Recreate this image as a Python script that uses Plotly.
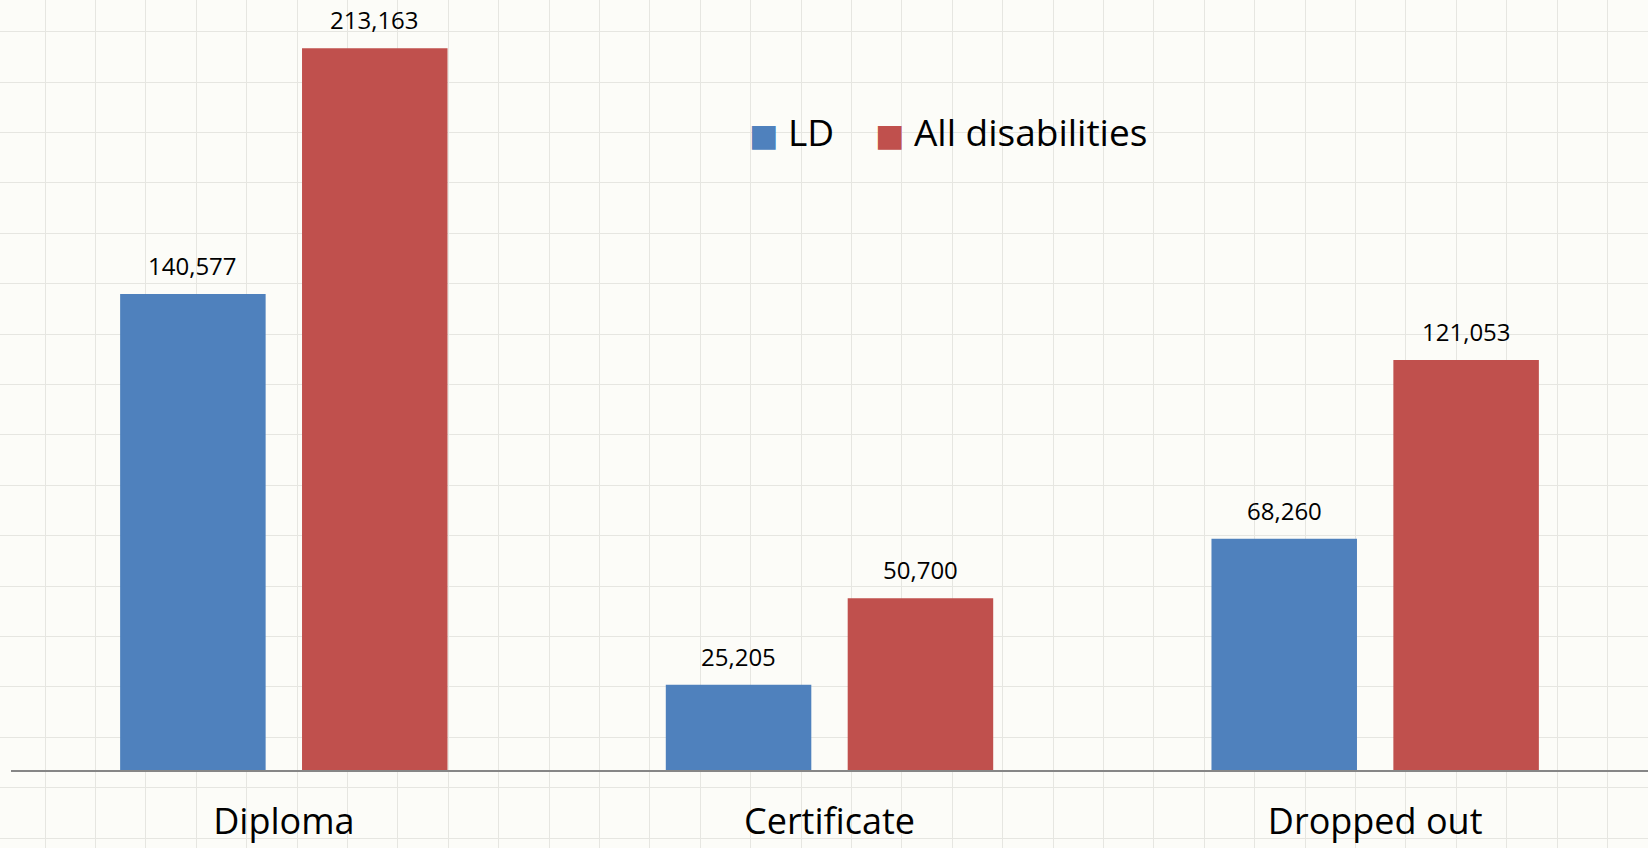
import plotly.graph_objects as go

categories = ["Diploma", "Certificate", "Dropped out"]
ld_values = [140577, 25205, 68260]
all_values = [213163, 50700, 121053]
series_names = ["LD", "All disabilities"]
series_colors = ["#4F81BD", "#C0504D"]

W, H = 1648, 848
BG = "#FCFCF8"
GRID = "#E6E6E1"
FONT = "Open Sans, DejaVu Sans, sans-serif"

BARGAP = 1 / 3
BARGROUPGAP = 0.2

fig = go.Figure()

# empty trace to hold the graph-paper background subplot
fig.add_trace(go.Scatter(x=[], y=[], xaxis="x", yaxis="y", showlegend=False, hoverinfo="skip"))

for name, vals, col in zip(series_names, [ld_values, all_values], series_colors):
    fig.add_trace(go.Bar(
        x=categories, y=vals, name=name, marker=dict(color=col, line=dict(width=0)),
        xaxis="x2", yaxis="y2", showlegend=False,
    ))

annotations = []
offset = (1 - BARGAP) / 4
for s, vals in enumerate([ld_values, all_values]):
    for i, v in enumerate(vals):
        annotations.append(dict(
            x=i + (offset if s else -offset), y=v, xref="x2", yref="y2",
            text=f"{v:,}", showarrow=False, yanchor="bottom", xanchor="center",
            yshift=10, font=dict(family=FONT, size=24, color="#000000"),
        ))

# legend (drawn as text with coloured squares)
legend_x = [747 / W, 873 / W]
for name, col, lx in zip(series_names, series_colors, legend_x):
    annotations.append(dict(
        x=lx, y=1 - 131 / H, xref="paper", yref="paper", xanchor="left", yanchor="middle",
        text=f"<span style='color:{col};font-size:31px'>■</span> {name}",
        showarrow=False, font=dict(family=FONT, size=37, color="#000000"),
    ))

fig.update_layout(
    width=W, height=H,
    margin=dict(l=0, r=0, t=0, b=0, autoexpand=False),
    paper_bgcolor=BG, plot_bgcolor="rgba(0,0,0,0)",
    barmode="group", bargap=BARGAP, bargroupgap=BARGROUPGAP,
    showlegend=False,
    annotations=annotations,
    xaxis=dict(domain=[0, 1], range=[0, W], tick0=45, dtick=50.4, showgrid=True,
               gridcolor=GRID, gridwidth=1.2, showticklabels=False, zeroline=False,
               showline=False, fixedrange=True, automargin=False),
    yaxis=dict(domain=[0, 1], range=[H, 0], tick0=31.7, dtick=50.4, showgrid=True,
               gridcolor=GRID, gridwidth=1.2, showticklabels=False, zeroline=False,
               showline=False, fixedrange=True, automargin=False),
    xaxis2=dict(domain=[11 / W, 1], anchor="y2", type="category", showgrid=False,
                showline=True, linecolor="#868686", linewidth=2, ticks="",
                ticklabelstandoff=19, automargin=False,
                tickfont=dict(family=FONT, size=36, color="#000000"), fixedrange=True),
    yaxis2=dict(domain=[78 / H, 1], anchor="x2", range=[0, 227400], showgrid=False,
                showticklabels=False, zeroline=False, showline=False, fixedrange=True,
                automargin=False),
)

fig.write_html("out.html")
